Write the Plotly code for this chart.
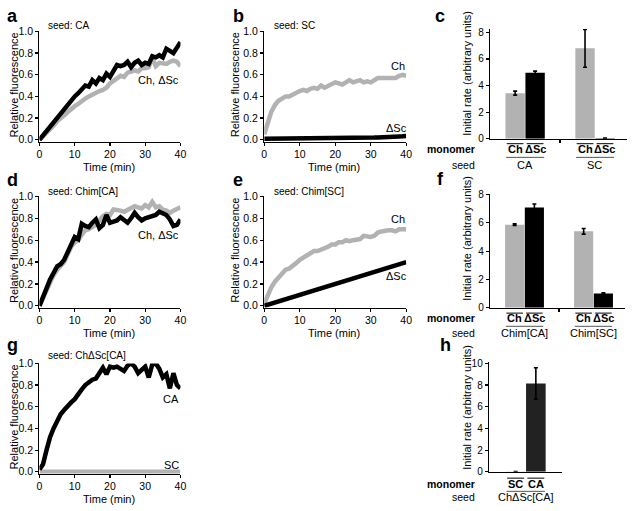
import plotly.graph_objects as go

W, H = 636, 511
FONT = "Liberation Sans, Arial, sans-serif"
GRAY = "#b2b2b2"
BLACK = "#000000"

# ---------------- data ----------------
time_min = list(range(41))

a_ch = [0.00, 0.03, 0.07, 0.10, 0.13, 0.17, 0.20, 0.23, 0.26, 0.28, 0.31, 0.33, 0.36, 0.38, 0.40, 0.42,
        0.43, 0.45, 0.46, 0.48, 0.52, 0.54, 0.56, 0.59, 0.58, 0.62, 0.63, 0.64, 0.63, 0.66, 0.66, 0.67,
        0.76, 0.68, 0.71, 0.70, 0.70, 0.72, 0.73, 0.72, 0.68]
a_dsc = [0.00, 0.04, 0.08, 0.12, 0.17, 0.21, 0.25, 0.29, 0.32, 0.37, 0.40, 0.43, 0.46, 0.50, 0.49, 0.55,
         0.52, 0.57, 0.55, 0.61, 0.58, 0.64, 0.69, 0.68, 0.69, 0.72, 0.67, 0.71, 0.73, 0.69, 0.71, 0.70,
         0.77, 0.76, 0.78, 0.76, 0.84, 0.82, 0.80, 0.85, 0.90]

b_ch = [0.05, 0.17, 0.26, 0.32, 0.36, 0.38, 0.40, 0.40, 0.42, 0.43, 0.45, 0.46, 0.45, 0.47, 0.48, 0.47,
        0.50, 0.48, 0.50, 0.51, 0.53, 0.52, 0.51, 0.53, 0.55, 0.53, 0.54, 0.55, 0.53, 0.54, 0.53, 0.55,
        0.57, 0.57, 0.57, 0.58, 0.58, 0.57, 0.59, 0.60, 0.59]
b_dsc = [0.010, 0.010, 0.010, 0.010, 0.010, 0.010, 0.010, 0.010, 0.010, 0.010, 0.010, 0.012, 0.010,
         0.012, 0.012, 0.015, 0.012, 0.012, 0.015, 0.015, 0.015, 0.015, 0.015, 0.015, 0.015, 0.015,
         0.015, 0.015, 0.018, 0.020, 0.020, 0.020, 0.022, 0.025, 0.025, 0.028, 0.030, 0.030, 0.030,
         0.032, 0.035]

d_ch = [0.00, 0.07, 0.15, 0.22, 0.28, 0.33, 0.37, 0.40, 0.47, 0.54, 0.58, 0.60, 0.65, 0.69, 0.70, 0.72,
        0.74, 0.78, 0.82, 0.84, 0.83, 0.88, 0.88, 0.87, 0.86, 0.88, 0.90, 0.91, 0.90, 0.89, 0.92, 0.90,
        0.95, 0.90, 0.91, 0.88, 0.87, 0.85, 0.87, 0.89, 0.90]
d_dsc = [0.00, 0.08, 0.17, 0.24, 0.30, 0.36, 0.38, 0.42, 0.49, 0.56, 0.63, 0.61, 0.75, 0.73, 0.72, 0.76,
         0.79, 0.71, 0.74, 0.83, 0.76, 0.77, 0.78, 0.81, 0.79, 0.76, 0.80, 0.85, 0.81, 0.78, 0.80, 0.81,
         0.81, 0.83, 0.86, 0.84, 0.83, 0.79, 0.73, 0.74, 0.79]

e_ch = [0.02, 0.10, 0.17, 0.22, 0.26, 0.29, 0.33, 0.34, 0.36, 0.39, 0.42, 0.44, 0.45, 0.48, 0.50, 0.50,
        0.51, 0.53, 0.54, 0.56, 0.56, 0.58, 0.58, 0.60, 0.59, 0.60, 0.60, 0.61, 0.64, 0.63, 0.63, 0.64,
        0.67, 0.68, 0.69, 0.69, 0.69, 0.68, 0.70, 0.70, 0.70]
e_dsc = [0.000, 0.010, 0.020, 0.030, 0.040, 0.050, 0.055, 0.065, 0.075, 0.085, 0.095, 0.105, 0.115,
         0.125, 0.135, 0.145, 0.155, 0.165, 0.180, 0.195, 0.205, 0.210, 0.220, 0.230, 0.240, 0.250,
         0.260, 0.270, 0.280, 0.290, 0.300, 0.310, 0.320, 0.330, 0.340, 0.350, 0.360, 0.370, 0.380,
         0.390, 0.400]

g_ca = [0.02, 0.07, 0.20, 0.32, 0.40, 0.47, 0.53, 0.57, 0.61, 0.64, 0.67, 0.72, 0.76, 0.80, 0.83, 0.85,
        0.86, 0.92, 0.96, 0.90, 0.97, 0.96, 0.97, 0.95, 0.93, 0.98, 1.00, 0.97, 0.91, 0.94, 0.97, 0.87,
        0.99, 1.00, 0.95, 0.87, 0.90, 0.77, 0.91, 0.80, 0.77]
g_sc = [0.0] * 41

c_monomer = ["Ch", "ΔSc", "Ch", "ΔSc"]
c_seed = ["CA", "SC"]
c_vals = [3.43, 4.97, 6.80, 0.05]
c_err = [0.15, 0.12, 1.42, 0.0]

f_monomer = ["Ch", "ΔSc", "Ch", "ΔSc"]
f_seed = ["Chim[CA]", "Chim[SC]"]
f_vals = [5.87, 7.08, 5.40, 1.01]
f_err = [0.05, 0.25, 0.20, 0.05]

h_monomer = ["SC", "CA"]
h_seed = ["ChΔSc[CA]"]
h_vals = [-0.03, 8.15]
h_err = [0.05, 1.45]

time_ticks = [0, 10, 20, 30, 40]
fluor_ticks = [0.0, 0.2, 0.4, 0.6, 0.8, 1.0]


# ---------------- helpers ----------------
def dom(v0, p0, v1, p1, r0, r1, vertical):
    s = (p1 - p0) / (v1 - v0)
    q0 = p0 + (r0 - v0) * s
    q1 = p0 + (r1 - v0) * s
    if vertical:
        return [1 - q0 / H, 1 - q1 / H]
    return [q0 / W, q1 / W]


def inv_range(v0, p0, v1, p1, a_px, b_px):
    s = (p1 - p0) / (v1 - v0)
    return [v0 + (a_px - p0) / s, v0 + (b_px - p0) / s]


fig = go.Figure()
layout = dict(
    width=W, height=H, margin=dict(l=0, r=0, t=0, b=0), autosize=False,
    showlegend=False, plot_bgcolor="white", paper_bgcolor="white",
    font=dict(family=FONT, size=11, color="black"),
)
annotations = []
shapes = []

axis_common = dict(showline=True, linecolor="black", linewidth=1.3, ticks="outside",
                   ticklen=3, tickwidth=1.2, tickcolor="black", showgrid=False,
                   zeroline=False, fixedrange=True, tickfont=dict(size=10.5, family=FONT))


def ann(text, xpx, ypx, size=11, bold=False, xanchor="center", angle=0, xref=None, xval=None):
    annotations.append(dict(
        text=("<b>%s</b>" % text) if bold else text,
        x=xval if xref else xpx / W, xref=xref if xref else "paper",
        y=1 - ypx / H, yref="paper", xanchor=xanchor, yanchor="middle",
        showarrow=False, textangle=angle, font=dict(size=size, family=FONT, color="black")))


# ---------------- line panels ----------------
YR = [-0.016, 1.0]
line_panels = [
    # n, x0px, x40px, y0px, y1px, gray, black
    (1, 37, 180, 137, 26, a_ch, a_dsc),
    (2, 265, 409, 137, 26, b_ch, b_dsc),
    (4, 37, 180, 307, 195, d_ch, d_dsc),
    (5, 265, 409, 307, 195, e_ch, e_dsc),
    (7, 37, 180, 477, 366, g_sc, g_ca),
]
for n, x0p, x1p, y0p, y1p, gser, kser in line_panels:
    sfx = "" if n == 1 else str(n)
    layout["xaxis" + sfx] = dict(axis_common, domain=dom(0, x0p, 40, x1p, 0, 40, False),
                                 range=[0, 40], tickvals=time_ticks, anchor="y" + sfx)
    layout["yaxis" + sfx] = dict(axis_common, domain=dom(0, y0p, 1, y1p, YR[0], YR[1], True),
                                 range=YR, tickvals=fluor_ticks,
                                 ticktext=["%.1f" % v for v in fluor_ticks], anchor="x" + sfx)
    fig.add_trace(go.Scatter(x=time_min, y=gser, mode="lines", line=dict(color=GRAY, width=4.5),
                             xaxis="x" + sfx, yaxis="y" + sfx, hoverinfo="skip"))
    fig.add_trace(go.Scatter(x=time_min, y=kser, mode="lines", line=dict(color=BLACK, width=4.5),
                             xaxis="x" + sfx, yaxis="y" + sfx, hoverinfo="skip"))
    ann("Relative fluorescence", x0p - 26 if x0p < 100 else x0p - 30, (y0p + y1p) / 2 - 1, angle=-90)
    ann("Time (min)", (x0p + x1p) / 2 - 1, y0p + 28)

# series / seed labels
ann("seed: CA", 44, 20, size=10, xanchor="left")
ann("Ch, ΔSc", 181, 76, xanchor="right")
ann("seed: SC", 273, 20, size=10, xanchor="left")
ann("Ch", 410, 61, xanchor="right")
ann("ΔSc", 412, 125, xanchor="right")
ann("seed: Chim[CA]", 44, 190, size=10, xanchor="left")
ann("Ch, ΔSc", 181, 235, xanchor="right")
ann("seed: Chim[SC]", 273, 190, size=10, xanchor="left")
ann("Ch", 410, 218, xanchor="right")
ann("ΔSc", 412, 277, xanchor="right")
ann("seed: ChΔSc[CA]", 44, 358, size=10, xanchor="left")
ann("CA", 181, 402, xanchor="right")
ann("SC", 181, 470, xanchor="right")

# ---------------- bar panels ----------------
bar_panels = [
    (3, 494, 633, 519.5, 20.25, 136, 8, 27, 8.25, [0, 2, 4, 6, 8], c_monomer, c_seed, c_vals, c_err,
     [GRAY, BLACK, GRAY, BLACK], (146, 141, 155, 163), 69, [3.25]),
    (6, 494, 631, 519, 20.0, 309, 8, 193, 8.05, [0, 2, 4, 6, 8], f_monomer, f_seed, f_vals, f_err,
     [GRAY, BLACK, GRAY, BLACK], (320, 314.5, 328, 335), 238, [3.25]),
    (8, 493, 567, 520, 20.5, 477, 10, 366, 10.1, [0, 2, 4, 6, 8, 10], h_monomer, h_seed, h_vals, h_err,
     [GRAY, "#222222"], (489, 483.5, 497, 503), 411, []),
]
for (n, ax0, ax1, p1px, unit, y0p, yv, ytp, ytop, yt, mons, seeds, vals, errs, cols, rows,
     title_y, midticks) in bar_panels:
    sfx = str(n)
    npg = 2
    pos = []
    for gi in range(len(seeds)):
        for mi in range(npg):
            pos.append(1 + gi * 3.5 + mi)
    xr = inv_range(1, p1px, 2, p1px + unit, ax0, ax1)
    layout["xaxis" + sfx] = dict(axis_common, domain=[ax0 / W, ax1 / W], range=xr,
                                 tickvals=midticks, showticklabels=False, anchor="y" + sfx)
    layout["yaxis" + sfx] = dict(axis_common, domain=dom(0, y0p, yv, ytp, 0, ytop, True),
                                 range=[0, ytop], tickvals=yt, anchor="x" + sfx,
                                 tickfont=dict(size=10, family=FONT))
    fig.add_trace(go.Bar(x=pos, y=vals, width=0.97, marker=dict(color=cols, line=dict(width=0)),
                         error_y=dict(type="data", array=errs, color="black", thickness=1.6, width=2),
                         xaxis="x" + sfx, yaxis="y" + sfx, hoverinfo="skip"))
    my, oy, sly, sy = rows
    ann("monomer", 481, my, size=10.5, bold=True, xanchor="right")
    ann("seed", 481, sy, size=10.5, xanchor="right")
    for p, m in zip(pos, mons):
        ann(m, 0, my, size=11, bold=True, xref="x" + sfx, xval=p)
        shapes.append(dict(type="line", xref="x" + sfx, yref="paper", x0=p - 0.42, x1=p + 0.42,
                           y0=1 - oy / H, y1=1 - oy / H, line=dict(color="black", width=1)))
    for gi, sname in enumerate(seeds):
        g0 = pos[gi * npg]
        g1 = pos[gi * npg + npg - 1]
        ann(sname, 0, sy, size=11, xref="x" + sfx, xval=(g0 + g1) / 2)
        shapes.append(dict(type="line", xref="x" + sfx, yref="paper", x0=g0 - 0.45, x1=g1 + 0.45,
                           y0=1 - sly / H, y1=1 - sly / H, line=dict(color="#555555", width=1)))
    ann("Initial rate (arbitrary units)", 471, title_y, angle=-90)

# ---------------- panel letters ----------------
for letter, xp, yp in [("a", 2, 10), ("b", 231, 10), ("c", 436, 10),
                       ("d", 2, 178), ("e", 231, 178), ("f", 438, 177),
                       ("g", 2, 347), ("h", 441, 347)]:
    ann(letter, xp, yp, size=18, bold=True, xanchor="left")

layout["annotations"] = annotations
layout["shapes"] = shapes
fig.update_layout(**layout)
fig.write_html("out.html", config={"displayModeBar": False, "staticPlot": True},
               post_script="document.body.style.margin='0';document.body.style.overflow='hidden';")
